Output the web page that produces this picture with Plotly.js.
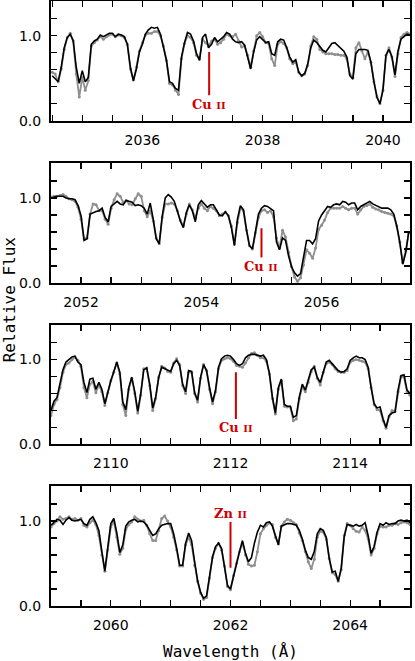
<!DOCTYPE html>
<html>
<head>
<meta charset="utf-8">
<script src="https://cdn.plot.ly/plotly-3.0.1.min.js"></script>
<style>
  html, body { margin: 0; padding: 0; background: #fff; }
  #chart { width: 415px; height: 661px; }
</style>
</head>
<body>
<div id="chart"></div>
<script>
// spectra sampled every 0.05 A, starting wavelength per panel
const pixStep = 0.05;
const waveStart = [2034.5, 2051.5, 2109.0, 2059.0];

// panel 1 (Cu II 2037)
const model1 = [0.53,0.49,0.46,0.63,0.86,0.98,1.02,0.94,0.63,0.44, 0.59,0.46,0.51,0.90,0.94,0.96,1.01,0.99,1.01,1.03,
  1.03,0.99,1.02,1.01,0.99,0.90,0.63,0.47,0.61,0.81, 0.90,1.02,1.07,1.10,1.09,1.10,1.02,0.88,0.71,0.46,
  0.44,0.38,0.36,0.75,0.92,1.04,1.02,0.94,0.79,0.71, 0.98,1.02,0.86,0.90,0.98,0.93,0.96,0.99,1.04,1.02,
  0.96,0.93,0.92,0.93,0.89,0.75,0.61,0.81,0.95,0.99, 0.95,0.92,0.93,0.79,0.77,0.93,0.96,0.95,0.86,0.75,
  0.69,0.72,0.57,0.53,0.56,0.67,0.86,0.95,0.92,0.87, 0.83,0.81,0.86,0.91,0.92,0.89,0.86,0.82,0.75,0.53,
  0.49,0.79,0.84,0.84,0.84,0.83,0.69,0.46,0.28,0.20, 0.36,0.77,0.84,0.75,0.54,0.82,0.96,0.99,1.02,1.01];
const data1 = [0.57,0.55,0.46,0.61,0.84,0.98,1.03,0.94,0.55,0.28, 0.51,0.36,0.47,0.88,0.92,0.95,0.99,0.96,0.99,1.01,
  1.02,0.99,1.01,1.00,0.98,0.90,0.61,0.48,0.63,0.82, 0.92,1.01,1.03,1.03,1.05,1.05,1.00,0.88,0.71,0.44,
  0.42,0.36,0.31,0.73,0.91,1.00,0.98,0.92,0.77,0.73, 0.96,0.92,0.88,0.94,0.96,0.90,0.92,0.96,1.02,1.00,
  0.99,1.02,0.94,0.87,0.88,0.77,0.63,0.82,1.00,1.04, 0.99,0.92,0.91,0.73,0.65,0.90,0.93,0.91,0.86,0.73,
  0.67,0.69,0.57,0.53,0.55,0.65,0.88,0.99,0.96,0.84, 0.81,0.79,0.79,0.79,0.78,0.78,0.77,0.77,0.73,0.55,
  0.51,0.86,0.92,0.82,0.73,0.81,0.69,0.46,0.28,0.20, 0.36,0.77,0.86,0.75,0.52,0.79,0.98,1.02,1.04,1.02];

// panel 2 (Cu II 2055)
const model2 = [1.00,1.01,1.02,1.02,1.02,1.00,0.99,0.99,0.98,0.91, 0.79,0.50,0.52,0.81,0.83,0.84,0.85,0.88,0.77,0.72,
  0.90,0.93,0.96,0.93,0.92,0.97,0.96,0.95,0.91,0.92, 0.91,0.88,0.81,0.94,0.75,0.52,0.46,0.79,1.00,1.04,
  1.01,0.96,0.85,0.73,0.65,0.83,0.92,0.85,0.72,0.92, 0.97,0.93,0.89,0.92,0.92,0.86,0.80,0.79,0.84,0.79,
  0.65,0.44,0.75,0.91,0.86,0.63,0.44,0.40,0.63,0.81, 0.88,0.91,0.90,0.88,0.85,0.48,0.39,0.53,0.50,0.32,
  0.19,0.12,0.08,0.11,0.32,0.50,0.50,0.46,0.52,0.73, 0.80,0.85,0.90,0.89,0.92,0.93,0.92,0.96,0.95,0.92,
  0.94,0.94,0.86,0.90,0.92,0.94,0.96,0.93,0.91,0.89, 0.88,0.88,0.88,0.86,0.81,0.67,0.48,0.22,0.36,0.61];
const data2 = [1.01,1.02,1.02,1.03,1.04,1.02,0.99,0.98,0.96,0.89, 0.75,0.52,0.53,0.81,0.93,0.92,0.85,0.85,0.75,0.69,
  0.88,0.98,1.05,1.02,0.95,0.97,0.93,0.92,0.99,1.05, 1.02,0.85,0.78,0.85,0.73,0.53,0.46,0.77,0.93,0.93,
  0.94,0.93,0.85,0.74,0.67,0.81,0.93,0.86,0.77,0.88, 0.93,0.88,0.85,0.90,0.88,0.85,0.79,0.81,0.83,0.79,
  0.67,0.46,0.71,0.88,0.85,0.62,0.44,0.40,0.59,0.77, 0.85,0.86,0.83,0.85,0.78,0.53,0.41,0.62,0.54,0.36,
  0.19,0.07,0.02,0.06,0.21,0.39,0.35,0.29,0.41,0.63, 0.68,0.74,0.83,0.88,0.88,0.88,0.88,0.90,0.88,0.86,
  0.88,0.88,0.81,0.86,0.90,0.91,0.93,0.89,0.87,0.86, 0.84,0.83,0.82,0.81,0.79,0.67,0.48,0.24,0.38,0.59];

// panel 3 (Cu II 2112)
const model3 = [0.40,0.51,0.55,0.71,0.88,0.97,1.00,1.03,1.04,0.97, 0.94,0.73,0.61,0.77,0.78,0.65,0.73,0.65,0.48,0.62,
  0.75,0.86,0.97,0.85,0.50,0.41,0.67,0.79,0.62,0.39, 0.60,0.88,0.90,0.71,0.43,0.56,0.79,0.91,0.89,0.87,
  0.86,0.95,0.99,0.93,0.71,0.62,0.87,0.86,0.61,0.52, 0.79,0.94,0.87,0.67,0.50,0.64,0.91,1.01,1.04,1.05,
  1.04,1.00,0.95,0.93,0.95,1.02,1.05,1.06,1.06,1.05, 1.04,1.05,1.00,0.84,0.56,0.37,0.67,0.77,0.47,0.45,
  0.45,0.32,0.34,0.56,0.71,0.64,0.75,0.88,0.91,0.79, 0.73,0.86,0.97,0.99,0.95,0.91,0.87,0.85,0.86,0.89,
  0.99,1.02,1.04,1.02,1.02,1.00,0.91,0.67,0.48,0.43, 0.44,0.30,0.20,0.34,0.37,0.38,0.64,0.81,0.82,0.64,0.60];
const data3 = [0.34,0.47,0.53,0.67,0.85,0.94,0.96,1.00,1.03,0.99, 0.92,0.67,0.55,0.71,0.74,0.61,0.70,0.62,0.46,0.61,
  0.75,0.85,0.96,0.83,0.47,0.34,0.65,0.78,0.60,0.37, 0.58,0.89,0.90,0.69,0.40,0.54,0.79,0.92,0.90,0.86,
  0.85,0.96,1.01,0.94,0.69,0.60,0.85,0.85,0.60,0.50, 0.78,0.94,0.87,0.65,0.48,0.62,0.89,0.99,1.01,1.02,
  1.01,0.98,0.93,0.92,0.91,0.96,1.02,1.07,1.08,1.05, 1.02,1.02,0.98,0.83,0.54,0.36,0.65,0.75,0.45,0.44,
  0.44,0.28,0.30,0.54,0.68,0.62,0.73,0.86,0.92,0.78, 0.70,0.85,0.95,0.97,0.94,0.89,0.86,0.85,0.85,0.87,
  0.97,0.99,1.00,0.99,0.98,0.97,0.89,0.67,0.47,0.41, 0.40,0.28,0.19,0.33,0.40,0.39,0.62,0.80,0.79,0.62,0.58];

// panel 4 (Zn II 2062)
const model4 = [0.95,0.99,1.02,1.01,0.96,1.01,1.04,1.01,1.00,1.01, 1.02,0.97,0.95,1.02,1.05,0.98,0.89,0.64,0.41,0.70,
  0.97,1.03,0.86,0.63,0.72,0.94,0.99,1.01,1.02,0.99, 1.00,0.99,0.95,0.89,0.83,0.85,0.91,0.95,0.96,0.97,
  0.97,0.85,0.68,0.48,0.48,0.74,0.86,0.77,0.52,0.30, 0.16,0.09,0.12,0.35,0.58,0.70,0.74,0.68,0.48,0.24,
  0.20,0.36,0.50,0.64,0.77,0.62,0.52,0.57,0.74,0.87, 0.95,0.93,0.98,0.99,0.94,0.82,0.72,0.94,0.96,0.97,
  0.97,0.96,0.95,0.89,0.79,0.66,0.57,0.55,0.64,0.85, 0.91,0.89,0.81,0.56,0.40,0.41,0.29,0.44,0.81,0.96,
  0.95,0.94,0.96,0.94,0.95,0.98,0.83,0.62,0.70,0.87, 0.97,0.95,0.98,0.96,0.97,0.97,1.00,1.01,1.00,1.01,0.98];
const data4 = [0.93,0.97,1.00,1.05,1.02,1.03,1.05,1.02,1.03,1.01, 1.03,0.95,0.93,0.98,1.01,0.96,0.83,0.60,0.41,0.66,
  0.93,1.00,0.81,0.61,0.68,0.90,0.96,0.99,1.05,1.02, 1.00,1.01,0.95,0.85,0.77,0.77,0.89,1.03,1.06,1.00,
  0.93,0.81,0.66,0.47,0.47,0.72,0.81,0.72,0.48,0.29, 0.15,0.08,0.10,0.33,0.57,0.68,0.74,0.66,0.47,0.23,
  0.19,0.36,0.50,0.64,0.74,0.60,0.49,0.47,0.48,0.64, 0.85,0.91,0.95,0.98,0.96,0.81,0.73,0.94,0.99,1.02,
  1.01,0.98,0.96,0.86,0.77,0.64,0.52,0.44,0.55,0.81, 0.88,0.87,0.79,0.56,0.39,0.37,0.29,0.43,0.83,0.97,
  0.95,0.91,0.88,0.87,0.93,0.89,0.79,0.60,0.68,0.85, 0.94,0.93,0.93,0.95,0.95,0.97,0.96,0.98,0.99,0.98,0.96];

// line identifications
const ionNames = ['Cu II', 'Cu II', 'Cu II', 'Zn II'];
const ionWave = [2037.11, 2055.0, 2112.09, 2062.0];
const ionTickLo = [0.30, 0.30, 0.30, 0.45];
const ionTickHi = [0.81, 0.645, 0.85, 0.99];
const ionLabelY = [0.19, 0.19, 0.195, 1.09];

const xRanges = [[2034.48, 2040.45], [2051.5, 2057.47], [2109.0, 2115.0], [2059.0, 2065.0]];
const domains = [[0.802, 1.0], [0.534, 0.732], [0.267, 0.465], [0.0, 0.198]];

let models = [model1, model2, model3, model4];
let spectra = [data1, data2, data3, data4];

let traces = [];
let annotations = [];
let layout = {
    width: 415,
    height: 661,
    margin: { l: 51, r: 5, t: 1, b: 55 },
    paper_bgcolor: 'white',
    plot_bgcolor: 'white',
    showlegend: false,
    font: { family: 'DejaVu Sans', color: 'black' },
};

const red = '#d00000';
const grey = '#8f8f8f';

for (let i = 0; i < 4; i++) {
    let n = i + 1;
    let xa = n === 1 ? 'x' : 'x' + n;
    let ya = n === 1 ? 'y' : 'y' + n;
    let waves = spectra[i].map((_, k) => waveStart[i] + k * pixStep);

    // observed spectrum: grey beaded line
    traces.push({
        x: waves, y: spectra[i], xaxis: xa, yaxis: ya,
        mode: 'lines+markers',
        line: { color: grey, width: 1.8 },
        marker: { symbol: 'circle', size: 3, color: grey },
        hoverinfo: 'skip',
    });
    // model fit
    traces.push({
        x: waves, y: models[i], xaxis: xa, yaxis: ya,
        mode: 'lines',
        line: { color: 'black', width: 1.6 },
        hoverinfo: 'skip',
    });
    traces.push({
        x: [ionWave[i], ionWave[i]], y: [ionTickLo[i], ionTickHi[i]], xaxis: xa, yaxis: ya,
        mode: 'lines',
        line: { color: red, width: 2 },
        hoverinfo: 'skip',
    });

    let parts = ionNames[i].split(' ');
    annotations.push({
        xref: xa, yref: ya, x: ionWave[i], y: ionLabelY[i],
        text: parts[0] + ' <span style="font-size:10px">' + parts[1] + '</span>',
        showarrow: false, xanchor: 'center', yanchor: 'middle',
        font: { family: 'DejaVu Serif', size: 13, color: red, weight: 'bold' },
    });

    let axisKeyX = n === 1 ? 'xaxis' : 'xaxis' + n;
    let axisKeyY = n === 1 ? 'yaxis' : 'yaxis' + n;
    layout[axisKeyX] = {
        anchor: ya,
        range: xRanges[i],
        showgrid: false, zeroline: false,
        showline: true, linewidth: 2, linecolor: 'black', mirror: 'ticks',
        ticks: 'inside', ticklen: 6, tickwidth: 1.3, tickcolor: 'black',
        dtick: 2, tick0: 2000,
        minor: { dtick: 0.5, tick0: 2000, ticks: 'inside', ticklen: 6, tickwidth: 1.3, tickcolor: 'black' },
        tickfont: { family: 'DejaVu Sans', size: 14, color: 'black' },
        ticklabelstandoff: 5,
    };
    layout[axisKeyY] = {
        anchor: xa,
        domain: domains[i],
        range: [0, 1.41],
        showgrid: false, zeroline: false,
        showline: true, linewidth: 2, linecolor: 'black', mirror: 'ticks',
        ticks: 'inside', ticklen: 6, tickwidth: 1.3, tickcolor: 'black',
        dtick: 1, tick0: 0, tickformat: '.1f',
        minor: { dtick: 0.2, tick0: 0, ticks: 'inside', ticklen: 6, tickwidth: 1.3, tickcolor: 'black' },
        tickfont: { family: 'DejaVu Sans', size: 14, color: 'black' },
        ticklabelstandoff: 5,
    };
}

layout.xaxis4.title = {
    text: 'Wavelength (\u00c5)',
    font: { family: 'DejaVu Sans Mono', size: 16, color: 'black' },
    standoff: 16,
};

annotations.push({
    xref: 'paper', yref: 'paper', x: -0.117, y: 0.507,
    text: 'Relative Flux', textangle: -90,
    showarrow: false, xanchor: 'center', yanchor: 'middle',
    font: { family: 'DejaVu Sans Mono', size: 16, color: 'black' },
});
layout.annotations = annotations;

Plotly.newPlot('chart', traces, layout, { displayModeBar: false, staticPlot: true });
</script>
</body>
</html>
